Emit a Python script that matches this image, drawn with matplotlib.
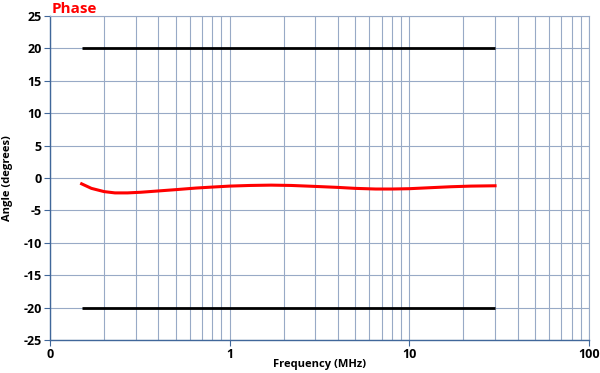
import matplotlib
matplotlib.use("Agg")
import matplotlib.pyplot as plt
from matplotlib.ticker import FixedLocator, FixedFormatter, NullFormatter

plt.rcParams['font.family'] = ['Open Sans', 'DejaVu Sans']
plt.rcParams['axes.unicode_minus'] = False

# Data
freq_mhz = [0.15, 0.17, 0.2, 0.23, 0.27, 0.32, 0.4, 0.5, 0.65, 0.8, 1.0, 1.3, 1.7, 2.2, 3.0, 4.0, 5.0, 6.5, 8.0, 10, 13, 17, 22, 30]
phase_deg = [-0.9, -1.6, -2.1, -2.3, -2.3, -2.2, -2.0, -1.8, -1.55, -1.4, -1.25, -1.15, -1.1, -1.15, -1.3, -1.45, -1.6, -1.7, -1.7, -1.65, -1.5, -1.35, -1.25, -1.2]
limit_freq = [0.15, 30]
upper_limit = [20, 20]
lower_limit = [-20, -20]
x_major = [0.1, 1, 10, 100]
x_labels = ["0", "1", "10", "100"]
y_ticks = [-25, -20, -15, -10, -5, 0, 5, 10, 15, 20, 25]

grid_c = '#98AAC6'
spine_c = '#40679A'

fig = plt.figure(figsize=(6.0, 3.73), dpi=100)
ax = fig.add_axes([50/600, 1-340/373, (589-50)/600, (340-16)/373])
ax.set_xscale('log')
ax.set_xlim(0.1, 100)
ax.set_ylim(-25, 25)

ax.xaxis.set_major_locator(FixedLocator(x_major))
ax.xaxis.set_major_formatter(FixedFormatter(x_labels))
minors = [m * d for d in [0.1, 1, 10] for m in range(2, 10)]
ax.xaxis.set_minor_locator(FixedLocator(minors))
ax.xaxis.set_minor_formatter(NullFormatter())
ax.set_yticks(y_ticks)

ax.grid(True, which='both', axis='x', color=grid_c, lw=0.8)
ax.grid(True, which='major', axis='y', color=grid_c, lw=0.8)
ax.set_axisbelow(True)

for s in ['top', 'right']:
    ax.spines[s].set_color(grid_c)
    ax.spines[s].set_linewidth(0.8)
for s in ['left', 'bottom']:
    ax.spines[s].set_color(spine_c)
    ax.spines[s].set_linewidth(1.0)

ax.tick_params(axis='both', which='major', length=4, color=spine_c, labelsize=9, pad=2)
ax.tick_params(axis='x', which='minor', length=0)
for lab in ax.get_xticklabels() + ax.get_yticklabels():
    lab.set_fontweight('bold')

ax.plot(limit_freq, upper_limit, color='black', lw=2.0, solid_capstyle='butt')
ax.plot(limit_freq, lower_limit, color='black', lw=2.0, solid_capstyle='butt')
ax.plot(freq_mhz, phase_deg, color='#FF0000', lw=2.2)

ax.set_xlabel('Frequency (MHz)', fontsize=8, fontweight='bold')
ax.xaxis.set_label_coords((320-50)/539, -(365-340)/324, transform=ax.transAxes)
ax.xaxis.label.set_va('center')
ax.set_ylabel('Angle (degrees)', fontsize=8, fontweight='bold')
ax.yaxis.set_label_coords(-(50-8)/539, 0.5, transform=ax.transAxes)
ax.yaxis.label.set_va('center')
fig.text(52/600, 1-9/373, 'Phase', color='#FF0000', fontsize=11, fontweight='bold', va='center', ha='left')

fig.savefig('out.png', dpi=100)
